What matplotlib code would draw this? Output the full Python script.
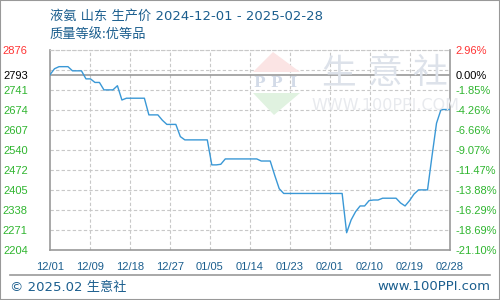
import numpy as np
import pandas as pd
import matplotlib
matplotlib.use('Agg')
import matplotlib.pyplot as plt
from matplotlib.patches import Polygon, Rectangle
from matplotlib.lines import Line2D

plt.rcParams['font.family'] = ['Liberation Sans', 'Noto Sans CJK SC']

# daily price, 2024-12-01 .. 2025-02-28
prices = [
    2793, 2813, 2820, 2820, 2820, 2806, 2806, 2806, 2779, 2779,
    2767, 2767, 2742, 2742, 2742, 2756, 2708, 2714, 2714, 2714,
    2714, 2714, 2658, 2658, 2658, 2640, 2626, 2626, 2626, 2585,
    2574, 2574, 2574, 2574, 2574, 2574, 2490, 2490, 2492, 2510,
    2510, 2510, 2510, 2510, 2510, 2510, 2510, 2503, 2503, 2503,
    2455, 2410, 2394, 2394, 2394, 2394, 2394, 2394, 2394, 2394,
    2394, 2394, 2394, 2394, 2394, 2394, 2262, 2305, 2333, 2352,
    2352, 2370, 2372, 2372, 2378, 2378, 2378, 2378, 2362, 2352,
    2370, 2392, 2406, 2406, 2406, 2520, 2630, 2676, 2676, 2676,
]
dates = pd.date_range('2024-12-01', '2025-02-28', freq='D')

base_price = 2793
y_min, y_max = 2204, 2876
left_labels = ['2876', '2793', '2741', '2674', '2607', '2540',
               '2472', '2405', '2338', '2271', '2204']
right_labels = ['2.96%', '0.00%', '-1.85%', '-4.26%', '-6.66%', '-9.07%',
                '-11.47%', '-13.88%', '-16.29%', '-18.69%', '-21.10%']
x_labels = ['12/01', '12/09', '12/18', '12/27', '01/05', '01/14',
            '01/23', '02/01', '02/10', '02/19', '02/28']

title1 = '液氨 山东 生产价 2024-12-01 - 2025-02-28'
title2 = '质量等级:优等品'

blue = '#1b5e8e'
red = '#ff3333'
green = '#2fb52f'
gray = '#999999'
grid_c = '#c8c8c8'

W, H = 500, 300
fig = plt.figure(figsize=(5, 3), dpi=100)


def fx(x):
    return x / W


def fy(y):
    return 1 - y / H


ax = fig.add_axes([fx(50), fy(250), fx(400), 200 / H])

# watermark (logo + site name)
wm_c = '#dde2ea'
fig.patches.append(Polygon([(fx(253), fy(72)), (fx(273), fy(52)), (fx(300), fy(72))],
                           closed=True, transform=fig.transFigure,
                           facecolor='#fbe4e4', edgecolor='none', zorder=0))
fig.patches.append(Polygon([(fx(253), fy(93)), (fx(274), fy(115)), (fx(300), fy(93))],
                           closed=True, transform=fig.transFigure,
                           facecolor='#e0f2e0', edgecolor='none', zorder=0))
for cx, ch in zip([259, 276, 293], 'PPI'):
    fig.text(fx(cx), fy(83), ch, color='#d3dbe8', fontsize=11, fontweight='bold',
             ha='center', va='center', family=['DejaVu Serif'], zorder=0)
for cx, ch in zip([339, 385, 429], '生意社'):
    fig.text(fx(cx), fy(74), ch, color=wm_c, fontsize=25, ha='center',
             va='center', family=['Noto Sans CJK SC'], zorder=0)
fig.text(fx(385), fy(105), 'WWW.100PPI.COM', color='#e8eaee', fontsize=11.5,
         ha='center', va='center', family=['DejaVu Sans'], zorder=0)
ax.patch.set_alpha(0)

x0, x1 = dates[0], dates[-1]
grid_x = pd.date_range(x0, x1, periods=11)
grid_y = np.linspace(y_min, y_max, 11)

for gx in grid_x[1:-1]:
    ax.axvline(gx, color=grid_c, lw=0.8, ls=(0, (3, 2)), zorder=1)
for gy in grid_y[1:]:
    ax.axhline(gy, color=grid_c, lw=0.8, ls=(0, (3, 2)), zorder=1)
ax.axhline(base_price, color=gray, lw=1.2, zorder=2)

ax.plot(dates, prices, color='#3a98d6', lw=1.0, zorder=3)

ax.set_xlim(x0, x1)
ax.set_ylim(y_min, y_max)

tick_y = [y_max, base_price] + list(grid_y[::-1][2:])
ax.set_yticks(tick_y)
ax.set_yticklabels(left_labels)
ax.tick_params(axis='y', length=0, pad=16, labelsize=8)
for lab, t in zip(ax.get_yticklabels(), left_labels):
    lab.set_color(red if t == '2876' else ('black' if t == '2793' else green))

ax.set_xticks(grid_x)
ax.set_xticklabels(x_labels)
ax.tick_params(axis='x', length=0, pad=9, labelsize=8, labelcolor=blue)

for s in ['left', 'bottom', 'right']:
    ax.spines[s].set_color(gray)
    ax.spines[s].set_linewidth(1.2)
ax.spines['top'].set_color(grid_c)
ax.spines['top'].set_linestyle((0, (3, 2)))
ax.spines['top'].set_linewidth(0.8)

ax2 = ax.twinx()
ax2.set_ylim(y_min, y_max)
ax2.set_yticks(tick_y)
ax2.set_yticklabels(right_labels)
ax2.tick_params(axis='y', length=0, pad=4, labelsize=8)
for lab, t in zip(ax2.get_yticklabels(), right_labels):
    lab.set_color(red if t == '2.96%' else ('black' if t == '0.00%' else green))
for s in ax2.spines.values():
    s.set_visible(False)

fig.text(fx(50), fy(16), title1, color=blue, fontsize=9.5, ha='left', va='center',
         family=['DejaVu Sans', 'Noto Sans CJK SC'])
fig.text(fx(50), fy(34), title2, color=blue, fontsize=9.5, ha='left', va='center',
         family=['Noto Sans CJK SC'])

fig.add_artist(Line2D([fx(10), fx(490)], [fy(275), fy(275)], color=gray, lw=1.2))
fig.text(fx(10), fy(287), '© 2025.02 生意社', color=blue, fontsize=9.5,
         ha='left', va='center', family=['DejaVu Sans', 'Noto Sans CJK SC'])
fig.text(fx(490), fy(287), 'www.100PPI.com', color=blue, fontsize=9.5,
         ha='right', va='center', family=['DejaVu Sans'])

fig.patches.append(Rectangle((0, 0), 1, 1, transform=fig.transFigure, fill=False,
                             edgecolor=gray, lw=1.5, zorder=5))

fig.savefig('out.png', dpi=100)
